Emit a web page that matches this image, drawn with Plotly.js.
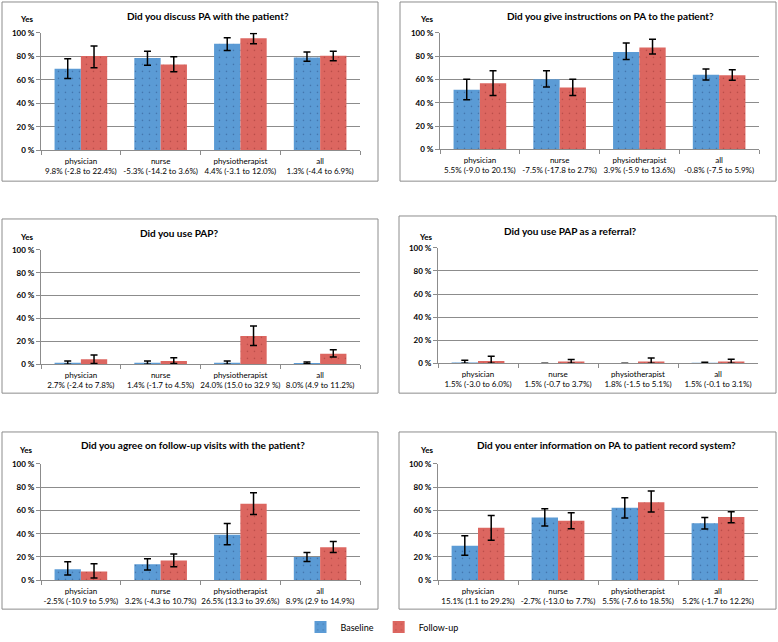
<!DOCTYPE html>
<html>
<head>
<meta charset="utf-8">
<script src="https://cdn.plot.ly/plotly-3.0.1.min.js"></script>
<style>html,body{margin:0;padding:0;background:#fff;}#chart{width:778px;height:642px;}</style>
</head>
<body>
<div id="chart"></div>
<script>
// ---------- DATA ----------
const categories = ['physician', 'nurse', 'physiotherapist', 'all'];
const seriesNames = ['Baseline', 'Follow-up'];
const titles = [
  'Did you discuss PA with the patient?',
  'Did you give instructions on PA to the patient?',
  'Did you use PAP?',
  'Did you use PAP as a referral?',
  'Did you agree on follow-up visits with the patient?',
  'Did you enter information on PA to patient record system?'
];
const diffLabels1 = ['9.8% (-2.8 to 22.4%)', '-5.3% (-14.2 to 3.6%)', '4.4% (-3.1 to 12.0%)', '1.3% (-4.4 to 6.9%)'];
const diffLabels2 = ['5.5% (-9.0 to 20.1%)', '-7.5% (-17.8 to 2.7%)', '3.9% (-5.9 to 13.6%)', '-0.8% (-7.5 to 5.9%)'];
const diffLabels3 = ['2.7% (-2.4 to 7.8%)', '1.4% (-1.7 to 4.5%)', '24.0% (15.0 to 32.9 %)', '8.0% (4.9 to 11.2%)'];
const diffLabels4 = ['1.5% (-3.0 to 6.0%)', '1.5% (-0.7 to 3.7%)', '1.8% (-1.5 to 5.1%)', '1.5% (-0.1 to 3.1%)'];
const diffLabels5 = ['-2.5% (-10.9 to 5.9%)', '3.2% (-4.3 to 10.7%)', '26.5% (13.3 to 39.6%)', '8.9% (2.9 to 14.9%)'];
const diffLabels6 = ['15.1% (1.1 to 29.2%)', '-2.7% (-13.0 to 7.7%)', '5.5% (-7.6 to 18.5%)', '5.2% (-1.7 to 12.2%)'];

// values (%), with upper / lower confidence limits
const base1 = [69.5, 78.5, 90.8, 79.0];  const baseHi1 = [78.0, 84.4, 95.8, 83.6]; const baseLo1 = [61.2, 72.5, 85.0, 75.9];
const foll1 = [80.2, 73.1, 95.5, 80.5];  const follHi1 = [88.7, 79.6, 99.4, 84.4]; const follLo1 = [70.3, 66.9, 90.7, 76.2];

const base2 = [51.2, 60.2, 83.6, 64.1];  const baseHi2 = [60.1, 67.5, 91.2, 68.9]; const baseLo2 = [42.5, 53.6, 77.2, 59.5];
const foll2 = [56.8, 53.0, 87.5, 63.6];  const follHi2 = [67.5, 60.1, 94.6, 68.4]; const follLo2 = [46.2, 46.2, 81.8, 59.3];

const base3 = [1.3, 1.3, 1.3, 1.2];      const baseHi3 = [2.9, 2.9, 2.9, 2.0];     const baseLo3 = [0.0, 0.0, 0.0, 0.5];
const foll3 = [4.3, 2.9, 24.8, 9.3];     const follHi3 = [8.2, 5.8, 33.4, 12.7];   const follLo3 = [0.8, 0.6, 16.4, 6.3];

const base4 = [0.6, 0.0, 0.0, 0.5];      const baseHi4 = [2.6, 0.0, 0.0, 1.0];     const baseLo4 = [0.0, 0.0, 0.0, 0.2];
const foll4 = [2.0, 1.5, 1.5, 1.5];      const follHi4 = [6.0, 3.2, 4.6, 3.4];     const follLo4 = [0.0, 0.0, 0.0, 0.0];

const base5 = [9.5, 13.8, 39.0, 20.0];   const baseHi5 = [16.0, 18.5, 48.7, 23.9]; const baseLo5 = [4.6, 8.8, 30.5, 16.2];
const foll5 = [7.5, 17.0, 65.8, 28.3];   const follHi5 = [14.2, 22.5, 75.2, 33.3]; const follLo5 = [2.0, 11.7, 56.4, 23.9];

const base6 = [29.7, 54.0, 62.3, 48.9];  const baseHi6 = [38.3, 61.4, 70.9, 54.0]; const baseLo6 = [21.4, 46.6, 53.4, 44.0];
const foll6 = [45.2, 51.1, 67.1, 54.4];  const follHi6 = [55.7, 58.0, 76.6, 58.9]; const follLo6 = [34.3, 44.3, 58.6, 49.4];

const yTicks = [0, 20, 40, 60, 80, 100];
const yTickLabels = ['0 %', '20 %', '40 %', '60 %', '80 %', '100 %'];

// ---------- BUILD ----------
const W = 778, H = 642;
const FONT = 'Lato, "Open Sans", sans-serif';
const blue = '#5b9bd5', red = '#dc6660';
const panels = [
  {b: base1, bh: baseHi1, bl: baseLo1, f: foll1, fh: follHi1, fl: follLo1, lab: diffLabels1},
  {b: base2, bh: baseHi2, bl: baseLo2, f: foll2, fh: follHi2, fl: follLo2, lab: diffLabels2},
  {b: base3, bh: baseHi3, bl: baseLo3, f: foll3, fh: follHi3, fl: follLo3, lab: diffLabels3},
  {b: base4, bh: baseHi4, bl: baseLo4, f: foll4, fh: follHi4, fl: follLo4, lab: diffLabels4},
  {b: base5, bh: baseHi5, bl: baseLo5, f: foll5, fh: follHi5, fl: follLo5, lab: diffLabels5},
  {b: base6, bh: baseHi6, bl: baseLo6, f: foll6, fh: follHi6, fl: follLo6, lab: diffLabels6}
];
// geometry in pixels: plot area [x0,x1], [yTop(100%), yBottom(0%)]; box; title x; "Yes" position
const geo = [
  {px: [41, 360], py: [33, 151], box: [2, 2, 378, 182], tx: 208, ty: 16, yes: [27, 19]},
  {px: [440, 759], py: [33, 150], box: [400, 2, 776, 182], tx: 610, ty: 16, yes: [427, 19]},
  {px: [41, 360], py: [251, 366], box: [2, 220, 378, 395], tx: 179, ty: 234, yes: [27, 238]},
  {px: [438, 758], py: [249, 365], box: [399, 217, 776, 395], tx: 570, ty: 232, yes: [426, 238]},
  {px: [41, 360], py: [466, 583], box: [2, 434, 378, 612], tx: 193, ty: 447, yes: [26, 452]},
  {px: [438, 758], py: [466, 583], box: [399, 434, 776, 612], tx: 606, ty: 447, yes: [427, 452]}
];
const fx = p => p / W, fy = p => 1 - p / H;

function diff(a, b) { return a.map((v, i) => Math.max(0, v - b[i])); }

const data = [], shapes = [], annotations = [];
const layout = {
  width: W, height: H,
  margin: {l: 0, r: 0, t: 0, b: 0},
  paper_bgcolor: '#fff', plot_bgcolor: '#fff',
  barmode: 'group', bargap: 0.34, bargroupgap: 0,
  font: {family: FONT, size: 9, color: '#000'},
  showlegend: true,
  legend: {orientation: 'h', x: 0.491, xanchor: 'center', y: fy(630), yanchor: 'middle',
           font: {family: FONT, size: 9, color: '#000'}, tracegroupgap: 0},
  shapes: shapes, annotations: annotations
};

panels.forEach((p, k) => {
  const n = k + 1;
  const xa = n === 1 ? 'x' : 'x' + n, ya = n === 1 ? 'y' : 'y' + n;
  const g = geo[k];
  const tickText = categories.map((c, i) => c + '<br>' + p.lab[i]);
  const mk = (name, col, vals, hi, lo, dotCol) => ({
    type: 'bar', name: name, x: categories, y: vals, xaxis: xa, yaxis: ya,
    showlegend: k === 0, legendgroup: name,
    marker: {color: col, line: {width: 0},
             pattern: {shape: '.', fgcolor: dotCol, bgcolor: col, size: 7, solidity: 0.04, fillmode: 'overlay'}},
    error_y: {type: 'data', symmetric: false, array: diff(hi, vals), arrayminus: diff(vals, lo),
              color: '#000', thickness: 1.5, width: 3.5}
  });
  data.push(mk(seriesNames[0], blue, p.b, p.bh, p.bl, 'rgba(20,50,100,0.8)'));
  data.push(mk(seriesNames[1], red, p.f, p.fh, p.fl, 'rgba(110,20,20,0.7)'));

  layout['xaxis' + (n === 1 ? '' : n)] = {
    domain: [fx(g.px[0]), fx(g.px[1])], anchor: ya,
    type: 'category', tickmode: 'array', tickvals: categories, ticktext: tickText, tickangle: 0,
    tickson: 'boundaries', ticks: 'outside', ticklen: 4, tickcolor: '#8c8c8c', ticklabelstandoff: 3,
    showline: true, linecolor: '#8c8c8c', linewidth: 1, showgrid: false,
    tickfont: {family: FONT, size: 8, color: '#000'}, fixedrange: true
  };
  layout['yaxis' + (n === 1 ? '' : n)] = {
    domain: [fy(g.py[1]), fy(g.py[0])], anchor: xa,
    range: [0, 100], tickmode: 'array', tickvals: yTicks, ticktext: yTickLabels,
    ticks: 'outside', ticklen: 4, tickcolor: '#8c8c8c',
    showline: true, linecolor: '#8c8c8c', linewidth: 1,
    showgrid: true, gridcolor: '#8c8c8c', gridwidth: 1, zeroline: false,
    tickfont: {family: FONT, size: 8, color: '#000', weight: 'bold'}, fixedrange: true
  };
  shapes.push({type: 'rect', xref: 'paper', yref: 'paper',
    x0: fx(g.box[0]), y0: fy(g.box[3]), x1: fx(g.box[2]), y1: fy(g.box[1]),
    line: {color: '#8c8c8c', width: 1}, fillcolor: 'rgba(0,0,0,0)', layer: 'below'});
  annotations.push({xref: 'paper', yref: 'paper', x: fx(g.tx), y: fy(g.ty), xanchor: 'center', yanchor: 'middle',
    text: '<b>' + titles[k] + '</b>', showarrow: false, font: {family: FONT, size: 10, color: '#000'}});
  annotations.push({xref: 'paper', yref: 'paper', x: fx(g.yes[0]), y: fy(g.yes[1]), xanchor: 'center', yanchor: 'middle',
    text: '<b>Yes</b>', showarrow: false, font: {family: FONT, size: 8, color: '#000'}});
});

Plotly.newPlot('chart', data, layout, {displayModeBar: false, staticPlot: true});
</script>
</body>
</html>
